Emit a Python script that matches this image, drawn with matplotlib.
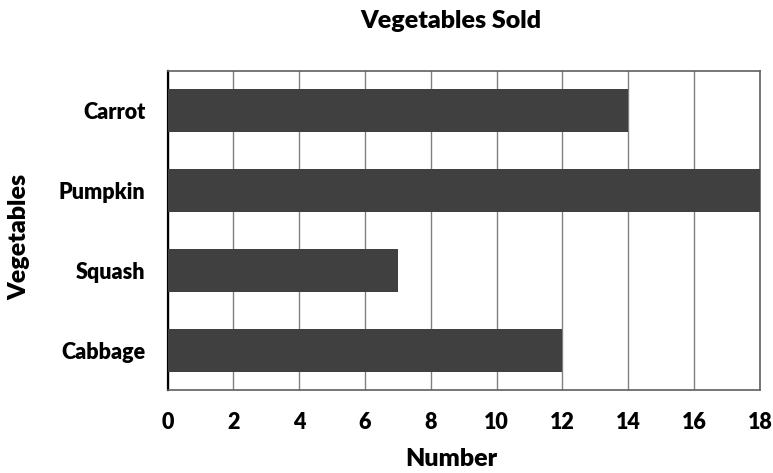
import matplotlib
matplotlib.use("Agg")
import matplotlib.pyplot as plt

categories = ["Carrot", "Pumpkin", "Squash", "Cabbage"]
values = [14, 18, 7, 12]
xticks = list(range(0, 19, 2))

WEIGHT = 'heavy'
plt.rcParams['font.family'] = ['Lato', 'DejaVu Sans']
plt.rcParams['font.weight'] = WEIGHT

fig = plt.figure(figsize=(7.73, 4.73), dpi=100)
ax = fig.add_axes([0.2167, 0.1755, 0.7663, 0.6745])

pos = list(range(len(categories)))[::-1]
ax.barh(pos, values, height=0.54, color="#404040", zorder=3)

ax.set_xlim(0, 18)
ax.set_ylim(-0.5, 3.5)
ax.set_xticks(xticks)
ax.set_xticklabels([str(t) for t in xticks], fontsize=15.5, fontweight=WEIGHT)
ax.set_yticks(pos)
ax.set_yticklabels(categories, fontsize=15.5, fontweight=WEIGHT)
ax.tick_params(axis='both', length=0)
ax.tick_params(axis='x', pad=16)
ax.tick_params(axis='y', pad=16)

ax.grid(axis='x', color="#808080", linewidth=1.0, zorder=0)
for side in ['top', 'right', 'bottom']:
    ax.spines[side].set_color("#606060")
    ax.spines[side].set_linewidth(1.2)
ax.spines['left'].set_color("black")
ax.spines['left'].set_linewidth(1.6)

fig.text(451 / 773, 1 - 21 / 473, "Vegetables Sold", fontsize=18,
         fontweight=WEIGHT, ha='center', va='center')
fig.text(451 / 773, 1 - 459 / 473, "Number", fontsize=18,
         fontweight=WEIGHT, ha='center', va='center')
fig.text(19 / 773, 1 - 237 / 473, "Vegetables", fontsize=18,
         fontweight=WEIGHT, ha='center', va='center', rotation=90)

fig.savefig("out.png", dpi=100)
